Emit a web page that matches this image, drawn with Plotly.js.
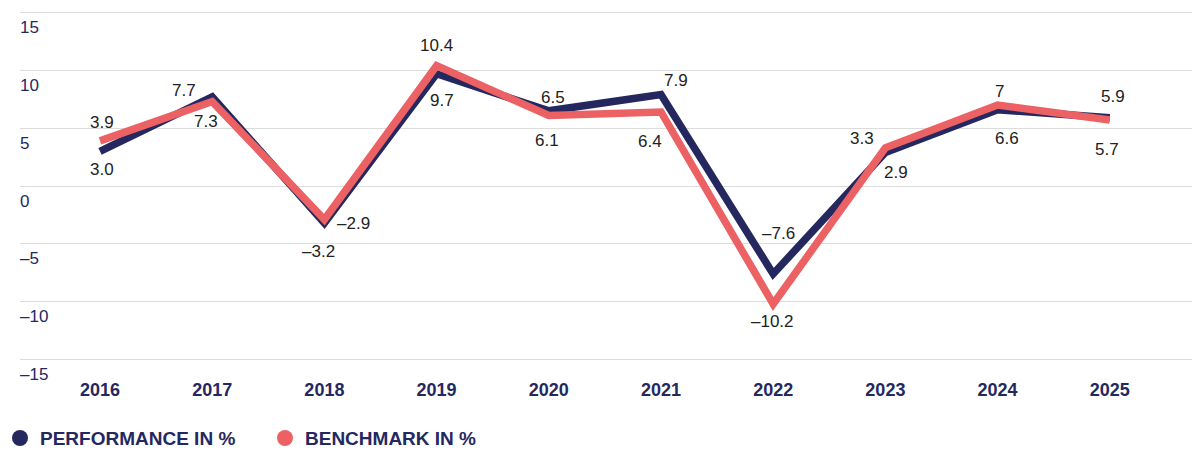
<!DOCTYPE html>
<html>
<head>
<meta charset="utf-8">
<script src="https://cdn.plot.ly/plotly-3.0.1.min.js"></script>
<style>html,body{margin:0;padding:0;background:#fff;}#chart{width:1200px;height:455px;}</style>
</head>
<body>
<div id="chart"></div>
<script>
// ---- data ----
var years = ['2016','2017','2018','2019','2020','2021','2022','2023','2024','2025'];
var performance = [3.0, 7.7, -3.2, 9.7, 6.5, 7.9, -7.6, 2.9, 6.6, 5.9];
var benchmark = [3.9, 7.3, -2.9, 10.4, 6.1, 6.4, -10.2, 3.3, 7.0, 5.7];
var performanceLabels = ['3.0','7.7','\u20133.2','9.7','6.5','7.9','\u20137.6','2.9','6.6','5.9'];
var benchmarkLabels = ['3.9','7.3','\u20132.9','10.4','6.1','6.4','\u201310.2','3.3','7','5.7'];
var yTickValues = [15, 10, 5, 0, -5, -10, -15];
var yTickText = ['15','10','5','0','\u20135','\u201310','\u201315'];
var seriesNames = ['PERFORMANCE IN %', 'BENCHMARK IN %'];

// ---- styling ----
var NAVY = '#25285f';
var RED = '#ec6163';
var TEXT = '#222222';
var FONT = 'Liberation Sans, Arial, sans-serif';
// label offsets in px (dx, dy with positive dy = up)
var perfOffsets = [[2,-18],[-28,6],[-6,-28],[5,-27],[4,13],[15,14],[5,40],[11,-20],[9,-29],[3,21]];
var benchOffsets = [[2,18],[-6,-20],[29,-4],[0,20],[-2,-25],[-11,-30],[-1,-17],[-23,9],[2,14],[-3,-29]];

var traces = [
  {x: years, y: performance, type: 'scatter', mode: 'lines', line: {color: NAVY, width: 7.5}, showlegend: false, hoverinfo: 'skip'},
  {x: years, y: benchmark, type: 'scatter', mode: 'lines', line: {color: RED, width: 7.5}, showlegend: false, hoverinfo: 'skip'},
  {x: [null], y: [null], type: 'scatter', mode: 'markers', name: seriesNames[0], marker: {color: NAVY, size: 17}},
  {x: [null], y: [null], type: 'scatter', mode: 'markers', name: seriesNames[1], marker: {color: RED, size: 17}}
];

var annotations = [];
years.forEach(function(yr, i) {
  annotations.push({x: i, y: performance[i], xref: 'x', yref: 'y', text: performanceLabels[i], showarrow: false,
    xshift: perfOffsets[i][0], yshift: perfOffsets[i][1], font: {family: FONT, size: 17, color: TEXT}});
  annotations.push({x: i, y: benchmark[i], xref: 'x', yref: 'y', text: benchmarkLabels[i], showarrow: false,
    xshift: benchOffsets[i][0], yshift: benchOffsets[i][1], font: {family: FONT, size: 17, color: TEXT}});
});
yTickValues.forEach(function(v, i) {
  annotations.push({x: 0, y: v, xref: 'paper', yref: 'y', xanchor: 'left', yanchor: 'middle', text: yTickText[i],
    showarrow: false, xshift: -2, yshift: -15, font: {family: FONT, size: 17, color: NAVY}});
});

var layout = {
  width: 1200, height: 455,
  margin: {l: 20, r: 8, t: 8.5, b: 91.5},
  paper_bgcolor: '#fff', plot_bgcolor: '#fff',
  font: {family: FONT, color: NAVY},
  showlegend: true,
  legend: {orientation: 'h', xref: 'container', yref: 'container', x: 0, xanchor: 'left', y: 0.037, yanchor: 'middle',
    font: {family: FONT, size: 19, color: NAVY, weight: 'bold'}, entrywidth: 220, entrywidthmode: 'pixels',
    itemclick: false, itemdoubleclick: false},
  xaxis: {type: 'category', range: [-0.713, 9.733], showgrid: false, zeroline: false, showline: false,
    ticks: '', ticklabelstandoff: 14, tickfont: {family: FONT, size: 18, color: NAVY, weight: 'bold'}, fixedrange: true},
  yaxis: {range: [-15.3, 15.3], tickvals: yTickValues, showticklabels: false, showgrid: true, gridcolor: '#dcdcdc', gridwidth: 1,
    zeroline: false, showline: false, ticks: '', fixedrange: true},
  annotations: annotations
};

Plotly.newPlot('chart', traces, layout, {displayModeBar: false, staticPlot: true});
</script>
</body>
</html>
